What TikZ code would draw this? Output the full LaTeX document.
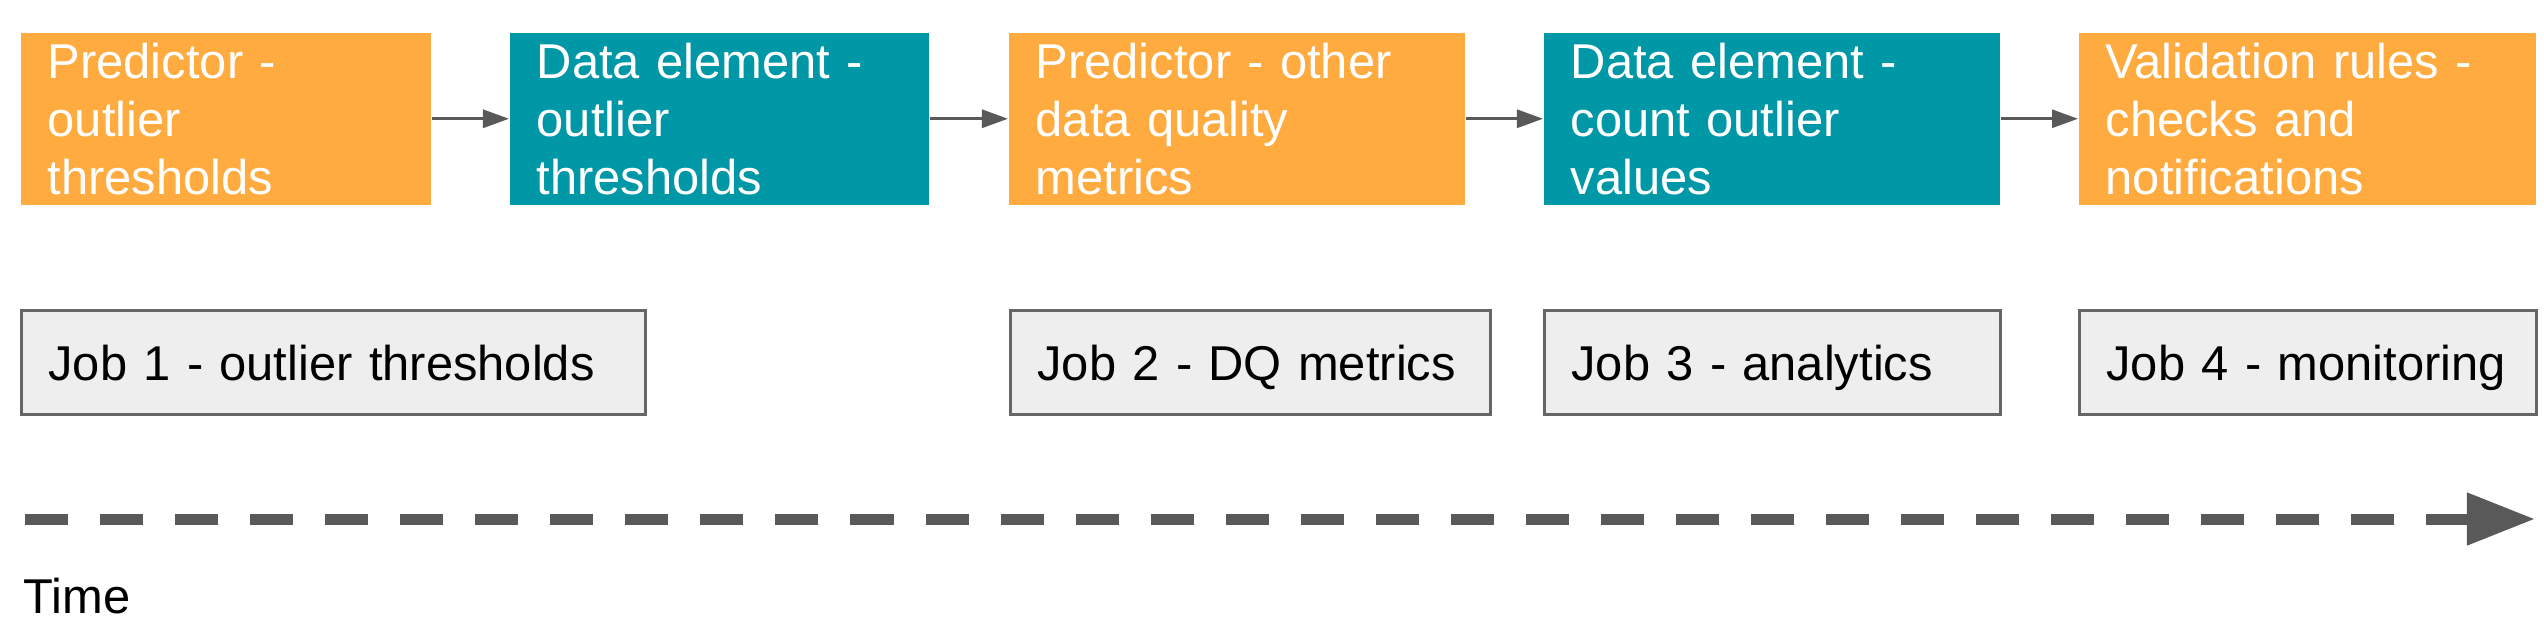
\documentclass[tikz,border=0pt]{standalone}
\usepackage{fontspec}
\setmainfont{Liberation Sans}
\usepackage{tikz}
\usetikzlibrary{arrows.meta}
\definecolor{predorange}{HTML}{FFAB40}
\definecolor{elemteal}{HTML}{0097A7}
\definecolor{jobfill}{HTML}{EEEEEE}
\definecolor{jobline}{HTML}{666666}
\definecolor{arrowgray}{HTML}{595959}
\tikzset{
predbox/.style={
  fill=predorange,
  text=white,
  align=left,
  anchor=north west,
  inner xsep=0.27cm,
  inner ysep=0pt,
  minimum height=1.72cm,
  font=\fontsize{13.9pt}{16.5pt}\selectfont
  },
elembox/.style={predbox, fill=elemteal},
jobbox/.style={
  fill=jobfill,
  draw=jobline,
  line width=0.03cm,
  text=black,
  align=left,
  anchor=north west,
  inner xsep=0.27cm,
  inner ysep=0pt,
  minimum height=1.04cm,
  text height=0.36cm,
  text depth=0pt,
  font=\fontsize{13.9pt}{16.5pt}\selectfont
  },
flow/.style={-{Triangle[length=0.26cm,width=0.18cm]}, draw=arrowgray, line width=0.03cm},
timeline/.style={-{Triangle[length=0.68cm,width=0.5cm]}, draw=arrowgray,
  line width=0.11cm, dash pattern=on 0.43cm off 0.32cm}
}

\begin{document}
\begin{tikzpicture}[x=0.01cm, y=-0.01cm]
  \useasboundingbox (0,0) rectangle (2544,641);

  % predictors and data elements
  \node[predbox,text width=3.56cm] (outlierpred) at (20,32)   {Predictor -\\outlier\\thresholds};
  \node[elembox,text width=3.65cm] (outlierelem) at (509,32)  {Data element -\\outlier\\thresholds};
  \node[predbox,text width=4.02cm] (dqpred)      at (1008,32) {Predictor - other\\data quality\\metrics};
  \node[elembox,text width=4.02cm] (countelem)   at (1543,32) {Data element -\\count outlier\\values};
  \node[predbox,text width=4.03cm] (valrules)    at (2078,32) {Validation rules -\\checks and\\notifications};

  \draw[flow] (outlierpred) -- (outlierelem);
  \draw[flow] (outlierelem) -- (dqpred);
  \draw[flow] (dqpred) -- (countelem);
  \draw[flow] (countelem) -- (valrules);

  % jobs
  \node[jobbox,text width=5.70cm] (job1) at (20,309)   {Job 1 - outlier thresholds};
  \node[jobbox,text width=4.26cm] (job2) at (1009,309) {Job 2 - DQ metrics};
  \node[jobbox,text width=4.02cm] (job3) at (1543,309) {Job 3 - analytics};
  \node[jobbox,text width=4.03cm] (job4) at (2078,309) {Job 4 - monitoring};

  % time axis
  \coordinate (tstart) at (25,519);
  \coordinate (tend) at (2535,519);
  \draw[timeline] (tstart) -- (tend);
  \node[anchor=base west, inner sep=0pt, font=\fontsize{13.9pt}{16.5pt}\selectfont] (timelbl) at (23,613) {Time};

\end{tikzpicture}
\end{document}
